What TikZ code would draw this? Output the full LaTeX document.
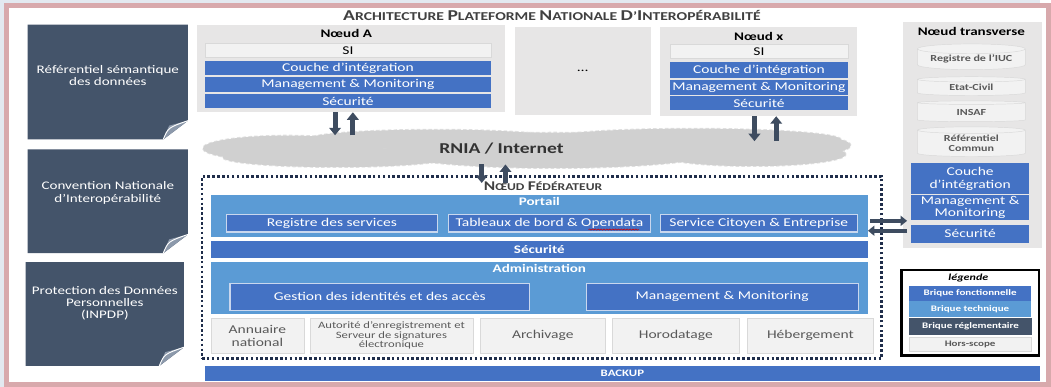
\documentclass[tikz,border=0pt]{standalone}
\usepackage{fontspec}
\setmainfont{Carlito}[FakeStretch=1.3]
\usetikzlibrary{positioning,calc,arrows.meta,shapes.geometric,decorations.pathmorphing}

\definecolor{bfonc}{HTML}{4472C4}
\definecolor{btech}{HTML}{5B9BD5}
\definecolor{bregl}{HTML}{44546A}
\definecolor{bhors}{HTML}{F2F2F2}
\definecolor{bhorsd}{HTML}{D9D9D9}
\definecolor{grtext}{HTML}{595959}
\definecolor{zonegray}{HTML}{E7E6E6}
\definecolor{cloudgray}{HTML}{D0D0D0}
\definecolor{cloudedge}{HTML}{E2E2E2}
\definecolor{frame}{HTML}{D8A9AC}
\definecolor{bgout}{HTML}{E3E9F0}
\definecolor{boxedge}{HTML}{C9D7EE}
\definecolor{dotline}{HTML}{1F2D4A}
\definecolor{foldc}{HTML}{8C99AB}
\definecolor{arrowc}{HTML}{3E4C60}

\newcommand\fsz[2]{\fontsize{#1}{#2}\selectfont}
\newcommand\smc[2]{{\fsz{11.5}{13}#1}{\fsz{9}{11}#2}}
\newcommand\smcbig[2]{{\fsz{13}{14}#1}{\fsz{10.4}{12}#2}}

\begin{document}
\begin{tikzpicture}[x=0.03cm, y=-0.03cm,
  sz/.style 2 args={minimum width=#1*0.03cm, minimum height=#2*0.03cm},
  brick/.style={anchor=north west, inner sep=0pt, align=center, font=\fsz{10.3}{11}},
  fonc/.style={brick, fill=bfonc, text=white},
  foncbox/.style={fonc, draw=boxedge, line width=0.9pt},
  tech/.style={brick, fill=btech, text=white},
  regl/.style={brick, fill=bregl, text=white},
  hors/.style={brick, fill=bhors, draw=bhorsd, text=grtext},
  zone/.style={brick, fill=zonegray},
  ttl/.style={inner sep=0pt, font=\bfseries\fsz{10}{11}},
  btxt/.style={inner sep=2pt, text=white, font=\bfseries\fsz{10}{11}},
  paneltxt/.style={inner sep=0pt, align=center, text=white, font=\fsz{10}{10.4}},
  legtxt/.style={font=\bfseries\fsz{7.3}{8}},
  flow/.style={draw=arrowc, line width=4.3pt, -{Triangle[width=10pt,length=6.5pt]}},
  flowthin/.style={draw=arrowc, line width=3.4pt, -{Triangle[width=8.5pt,length=5.5pt]}},
  db/.style={cylinder, shape border rotate=90, aspect=0.12, fill=bhors, draw=bhorsd,
    text=grtext, font=\bfseries\fsz{8}{8.6}, align=center, inner sep=0pt}
]
% fond et cadre
\fill[bgout] (0,0) rectangle (1051,391);
\draw[frame, line width=4.3pt, fill=white] (7,5.5) rectangle (1060,388.5);

% briques reglementaires (gauche)
\foreach \xa/\ya/\xb/\yb in {28/25/190/141, 28/151/190/256, 26/265/186/370}{
  \fill[bregl] (\xa,\ya) -- (\xb,\ya) -- (\xb,\yb-19) -- (\xb-25,\yb) -- (\xa,\yb) -- cycle;
  \fill[foldc] (\xb,\yb-19) -- (\xb-25,\yb) -- (\xb-19,\yb-14) -- cycle;
  \draw[white, line width=0.8pt] (\xb-25,\yb) .. controls (\xb-20,\yb-12) .. (\xb,\yb-19);
}
\node[paneltxt] (refsem) at (109,76) {Référentiel sémantique\\des données};
\node[paneltxt] (cni) at (109,195) {Convention Nationale\\d’Interopérabilité};
\node[paneltxt] (inpdp) at (106,307) {Protection des Données\\Personnelles\\(INPDP)};

% titre
\node[text=black!75, font=\bfseries] (archi) at (558,16)
  {\smcbig{A}{RCHITECTURE} \smcbig{P}{LATEFORME} \smcbig{N}{ATIONALE} \smcbig{D}{’}\smcbig{I}{NTEROPÉRABILITÉ}};

% noeud A
\node[zone, sz={311}{88}] (nodeA) at (199,25) {};
\node[ttl] (tA) at (350,34) {Nœud A};
\node[hors, text=black, sz={289}{15}] (siA) at (207,43) {SI};
\node[fonc, sz={289}{15}] (coucheA) at (207,61) {Couche d’intégration};
\node[fonc, sz={289}{15}] (mmA) at (207,78) {Management \& Monitoring};
\node[fonc, sz={289}{14}] (secA) at (207,95) {Sécurité};

% noeud intermediaire
\node[zone, sz={138}{89}] (nodeD) at (520,27) {\ldots};

% noeud x
\node[zone, sz={199}{90}] (nodeX) at (667,27) {};
\node[ttl] (tX) at (767,37) {Nœud x};
\node[hors, text=black, sz={180}{15}] (siX) at (677,44) {SI};
\node[fonc, sz={180}{17}] (coucheX) at (677,62) {Couche d’intégration};
\node[fonc, sz={180}{15}] (mmX) at (677,81) {Management \& Monitoring};
\node[fonc, sz={180}{14}] (secX) at (677,97) {Sécurité};

% reseau
\foreach \cx/\cy/\rx/\ry in {290/150/85/13, 340/159/115/10, 440/141/130/10, 560/152/170/18,
    700/141/150/11, 760/156/95/12, 820/147/40/9}
  \draw[cloudedge, line width=1.4pt, densely dashed] (\cx,\cy) ellipse ({\rx*0.03cm} and {\ry*0.03cm});
\foreach \cx/\cy/\rx/\ry in {290/150/85/13, 340/159/115/10, 440/141/130/10, 560/152/170/18,
    700/141/150/11, 760/156/95/12, 820/147/40/9}
  \fill[cloudgray] (\cx,\cy) ellipse ({\rx*0.03cm} and {\ry*0.03cm});
\node[ellipse, inner sep=0pt, minimum width=655*0.03cm, minimum height=40*0.03cm] (cloud) at (532,150) {};
\node[ttl, font=\bfseries\fsz{13}{14}, text=black!80] (rnia) at (507,150) {RNIA / Internet};

\draw[flow] ($(nodeA.south)+(-16,0)$) -- ($(nodeA.south |- cloud.north)+(-16,7)$);
\draw[flow] ($(nodeA.south |- cloud.north)+(2,7)$) -- ($(nodeA.south)+(2,0)$);
\draw[flow] ($(nodeX.south)+(-4,0)$) -- ($(nodeX.south |- cloud.north)+(-4,13)$);
\draw[flow] ($(nodeX.south |- cloud.north)+(18,13)$) -- ($(nodeX.south)+(18,0)$);

% noeud federateur
\node[brick, draw=dotline, line width=2.2pt, dotted, sz={687}{184}] (fed) at (203,177) {};
\node[text=black!75, font=\bfseries] (tfed) at (549,188) {\smc{N}{ŒUD} \smc{F}{ÉDÉRATEUR}};

\draw[flow] ($(cloud.south)+(-45,-4)$) -- ($(cloud.south |- fed.north)+(-45,8)$);
\draw[flow] ($(cloud.south |- fed.north)+(-21,8)$) -- ($(cloud.south)+(-21,-4)$);

\node[tech, sz={664}{42}, label={[btxt, anchor=north]north:Portail}] (portail) at (213,197) {};
\node[foncbox, sz={214}{18}] (regserv) at (228,216) {Registre des services};
\node[foncbox, sz={204}{18}] (tabbord) at (453,216) {Tableaux de bord \& Opendata};
\draw[red!80!black, line width=0.5pt, decorate, decoration={snake, amplitude=0.5pt, segment length=2.5pt}]
  ($(tabbord.south east)+(-63,-3)$) -- ($(tabbord.south east)+(-12,-3)$);
\node[foncbox, sz={199}{18}] (servcit) at (667,216) {Service Citoyen \& Entreprise};
\node[fonc, sz={664}{18}, font=\bfseries\fsz{10}{11}] (secF) at (213,243) {Sécurité};
\node[tech, sz={664}{52}, label={[btxt, anchor=north]north:Administration}] (admin) at (213,265) {};
\node[foncbox, sz={303}{27}] (gestid) at (232,286) {Gestion des identités et des accès};
\node[foncbox, sz={275}{27}] (mmF) at (592,286) {Management \& Monitoring};

\node[hors, sz={94}{36}, font=\fsz{10.3}{11}] (annu) at (213,321) {Annuaire\\national};
\node[hors, sz={165}{36}, font=\fsz{8.4}{8.3}] (autor) at (313,321)
  {Autorité d’enregistrement et\\Serveur de signatures\\électronique};
\node[hors, sz={127}{36}] (archiv) at (485,321) {Archivage};
\node[hors, sz={128}{36}] (horod) at (619,321) {Horodatage};
\node[hors, sz={128}{36}] (heberg) at (755,321) {Hébergement};

\node[fonc, sz={844}{15}, font=\bfseries\fsz{8.5}{9}] (backup) at (207,370) {BACKUP};

% noeud transverse
\node[zone, sz={140}{228}] (trans) at (913,22) {};
\node[ttl] (tT) at (982,32) {Nœud transverse};
\node[db, minimum width=109*0.03cm, minimum height=26*0.03cm] (iuc) at (982,60) {Registre de l’IUC};
\node[db, minimum width=109*0.03cm, minimum height=19*0.03cm] (etat) at (982,88.5) {Etat-Civil};
\node[db, minimum width=109*0.03cm, minimum height=21*0.03cm] (insaf) at (982,113.5) {INSAF};
\node[db, minimum width=109*0.03cm, minimum height=30*0.03cm] (refcom) at (982,145) {Référentiel\\Commun};
\node[fonc, sz={119}{31}] (coucheT) at (921,165) {Couche\\d’intégration};
\node[fonc, sz={119}{25}] (mmT) at (921,197) {Management \&\\Monitoring};
\node[fonc, sz={119}{18}] (secT) at (921,227) {Sécurité};

\draw[flowthin] ($(portail.east)+(2,5)$) -- ($(portail.east -| trans.west)+(4,5)$);
\draw[flowthin] ($(portail.east -| trans.west)+(4,15)$) -- ($(portail.east)+(0,15)$);

% legende
\node[brick, draw=black, line width=2.1pt, fill=white, sz={139}{86}] (leg) at (910,272) {};
\node[font=\bfseries\itshape\fsz{8}{9}] (tleg) at (979,281) {légende};
\node[fonc, legtxt, sz={123}{15}] (lfonc) at (919,289) {Brique fonctionnelle};
\node[tech, legtxt, sz={123}{16}] (ltech) at (919,304) {Brique technique};
\node[regl, legtxt, sz={124}{17}] (lregl) at (919,321) {Brique réglementaire};
\node[hors, legtxt, sz={123}{14}] (lhors) at (919,341) {Hors-scope};
\end{tikzpicture}
\end{document}
